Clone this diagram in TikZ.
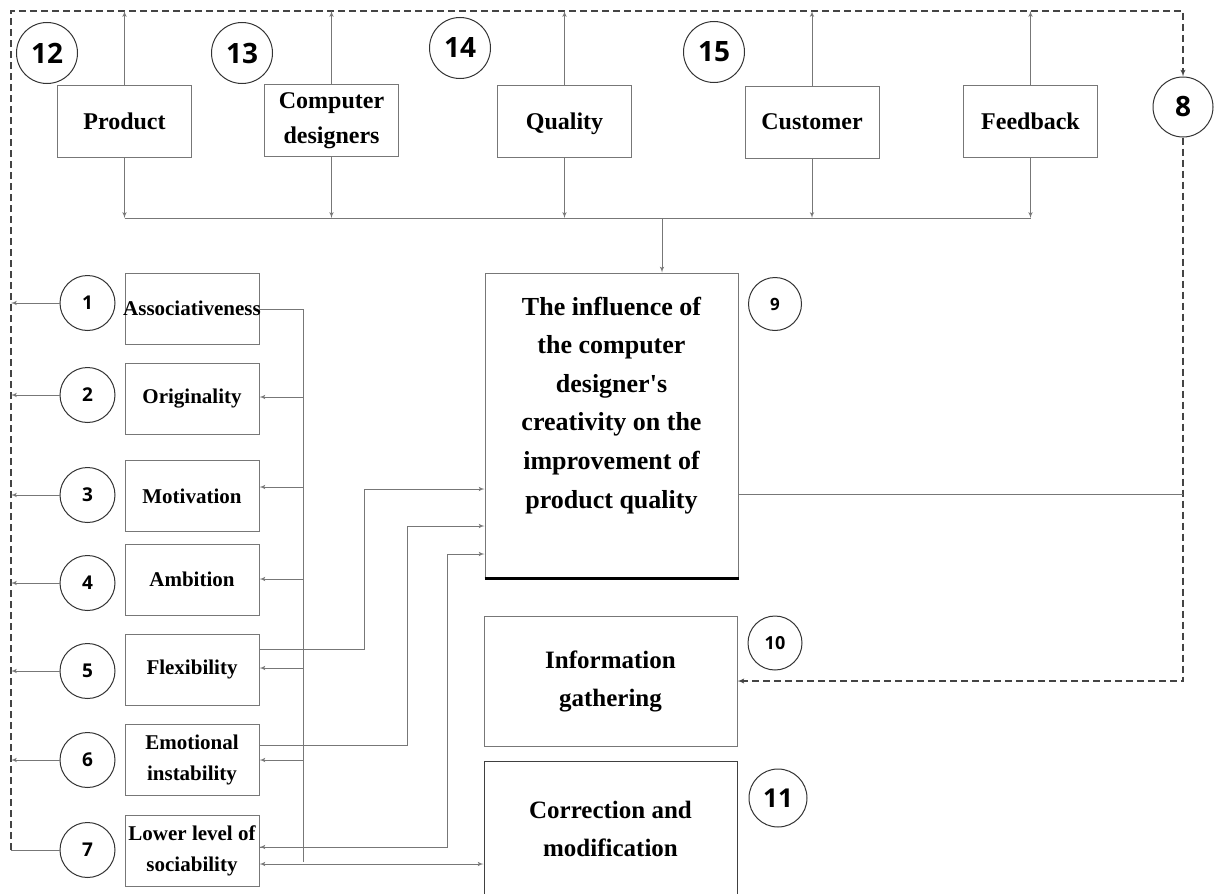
\documentclass[tikz,border=0pt]{standalone}
\usepackage{fontspec}
\setmainfont{Liberation Serif}[Ligatures=TeXOff]
\newfontfamily\numfont{Open Sans}
\usetikzlibrary{shapes, arrows}
\definecolor{linegray}{HTML}{777777}
\definecolor{dashgray}{HTML}{444444}
\tikzstyle{base} = [draw=linegray, line width=1pt, inner sep=0pt, align=center]
\tikzstyle{topic} = [base, minimum width=134pt, minimum height=72pt, font=\fontsize{24}{35}\selectfont\bfseries]
\tikzstyle{trait} = [base, minimum width=134pt, minimum height=71pt, font=\fontsize{21}{31}\selectfont\bfseries]
\tikzstyle{stage} = [base, minimum width=253pt, font=\fontsize{25}{38}\selectfont\bfseries]
\tikzstyle{badge} = [circle, draw=black!80, line width=1pt, inner sep=0pt, minimum size=61pt, font=\numfont\bfseries\fontsize{28}{28}\selectfont]
\tikzstyle{small badge} = [badge, minimum size=55pt, font=\numfont\bfseries\fontsize{19}{19}\selectfont]
\tikzstyle{line} = [draw=linegray, line width=1pt]
\tikzstyle{connector} = [line, -latex']
\tikzstyle{feedback} = [draw=dashgray, line width=1.3pt, dash pattern=on 7pt off 4pt, -latex']

\begin{document}
\begin{tikzpicture}[x=1pt, y=-1pt]
	\useasboundingbox (0,0) rectangle (1216,894);

	% top row
	\node [topic] at (124.5,121) (product) {Product};
	\node [topic] at (331.5,120.5) (designers) {Computer\\designers};
	\node [topic, text depth=0pt] at (564.5,121) (quality) {Quality};
	\node [topic] at (812,122) (customer) {Customer};
	\node [topic] at (1030.5,121) (feedback) {Feedback};

	\node [badge] at (47,53) (n12) {12};
	\node [badge] at (242,53) (n13) {13};
	\node [badge] at (460,48) (n14) {14};
	\node [badge] at (714,52) (n15) {15};
	\node [badge, minimum size=60pt] at (1183,107) (n8) {8};

	% stages
	\node [stage, minimum height=305pt, text depth=46pt, font=\fontsize{26}{38.6}\selectfont\bfseries] at (611.5,425.5) (influence) {The influence of\\the computer\\designer's\\creativity on the\\improvement of\\product quality};
	\node [stage, minimum height=130pt] at (610.5,681) (gather) {Information\\gathering};
	\node [stage, minimum height=135pt, draw=black!75] at (610.5,828.5) (correct) {Correction and\\modification};
	\draw [line width=3pt, black] (influence.south west) -- (influence.south east);

	\node [small badge, minimum size=53pt, font=\numfont\bfseries\fontsize{17}{17}\selectfont] at (775,304) (n9) {9};
	\node [small badge, minimum size=54pt, font=\numfont\bfseries\fontsize{18}{18}\selectfont] at (775,643) (n10) {10};
	\node [badge, minimum size=58pt, font=\numfont\bfseries\fontsize{26}{26}\selectfont] at (778,798) (n11) {11};

	% traits
	\node [trait] at (192,308.5) (assoc) {\makebox[134pt]{Associativeness}};
	\node [trait] at (192,398.5) (orig) {Originality};
	\node [trait] at (192,496) (motiv) {Motivation};
	\node [trait] at (192,579.5) (ambit) {Ambition};
	\node [trait] at (192,669.5) (flex) {Flexibility};
	\node [trait] at (192,760) (emot) {Emotional\\instability};
	\node [trait] at (192,850.5) (social) {Lower level of\\sociability};

	\node [small badge] at (87.5,303) (n1) {1};
	\node [small badge] at (87.5,395) (n2) {2};
	\node [small badge] at (87.5,495) (n3) {3};
	\node [small badge] at (87.5,583) (n4) {4};
	\node [small badge] at (87.5,671) (n5) {5};
	\node [small badge] at (87.5,760) (n6) {6};
	\node [small badge] at (87.5,850) (n7) {7};

	\coordinate (frame top left) at (11,11);
	\coordinate (frame bottom left) at (11,850);
	\coordinate (bar) at (662,218);
	\coordinate (bus top) at (303,309);
	\coordinate (bus bottom) at (303,862);

	% feedback loop
	\path [line] (n7) -- (frame bottom left);
	\path [feedback] (frame bottom left) -- (frame top left) -| (n8);
	\path [feedback] (n8) |- (gather);

	\path [connector] (n1) -- (n1 -| frame top left);
	\path [connector] (n2) -- (n2 -| frame top left);
	\path [connector] (n3) -- (n3 -| frame top left);
	\path [connector] (n4) -- (n4 -| frame top left);
	\path [connector] (n5) -- (n5 -| frame top left);
	\path [connector] (n6) -- (n6 -| frame top left);

	\path [connector] (product) -- (product |- frame top left);
	\path [connector] (designers) -- (designers |- frame top left);
	\path [connector] (quality) -- (quality |- frame top left);
	\path [connector] (customer) -- (customer |- frame top left);
	\path [connector] (feedback) -- (feedback |- frame top left);

	\path [connector] (product) -- (product |- bar);
	\path [connector] (designers) -- (designers |- bar);
	\path [connector] (quality) -- (quality |- bar);
	\path [connector] (customer) -- (customer |- bar);
	\path [connector] (feedback) -- (feedback |- bar);
	\path [line] (product |- bar) -- (feedback |- bar);
	\path [connector] (bar) -- (bar |- influence.north);

	\path [line] (influence.east |- 0,494) -- (n8 |- 0,494);

	% trait bus
	\path [line] (assoc.east |- bus top) -- (bus top) -- (bus bottom);
	\path [connector] (bus top |- 0,397) -- (orig.east |- 0,397);
	\path [connector] (bus top |- 0,487) -- (motiv.east |- 0,487);
	\path [connector] (bus top |- 0,579) -- (ambit.east |- 0,579);
	\path [connector] (bus top |- 0,668) -- (flex.east |- 0,668);
	\path [connector] (bus top |- 0,760) -- (emot.east |- 0,760);
	\path [connector] (bus top |- 0,847) -- (social.east |- 0,847);

	\path [connector] (flex.east |- 0,649) -- (364,649) |- (influence.west |- 0,489);
	\path [connector] (emot.east |- 0,745) -- (407,745) |- (influence.west |- 0,526);
	\path [connector] (social.east |- 0,847) -- (447,847) |- (influence.west |- 0,554);
	\path [connector, latex'-latex'] (social.east |- 0,864) -- (correct.west |- 0,864);

\end{tikzpicture}
\end{document}
